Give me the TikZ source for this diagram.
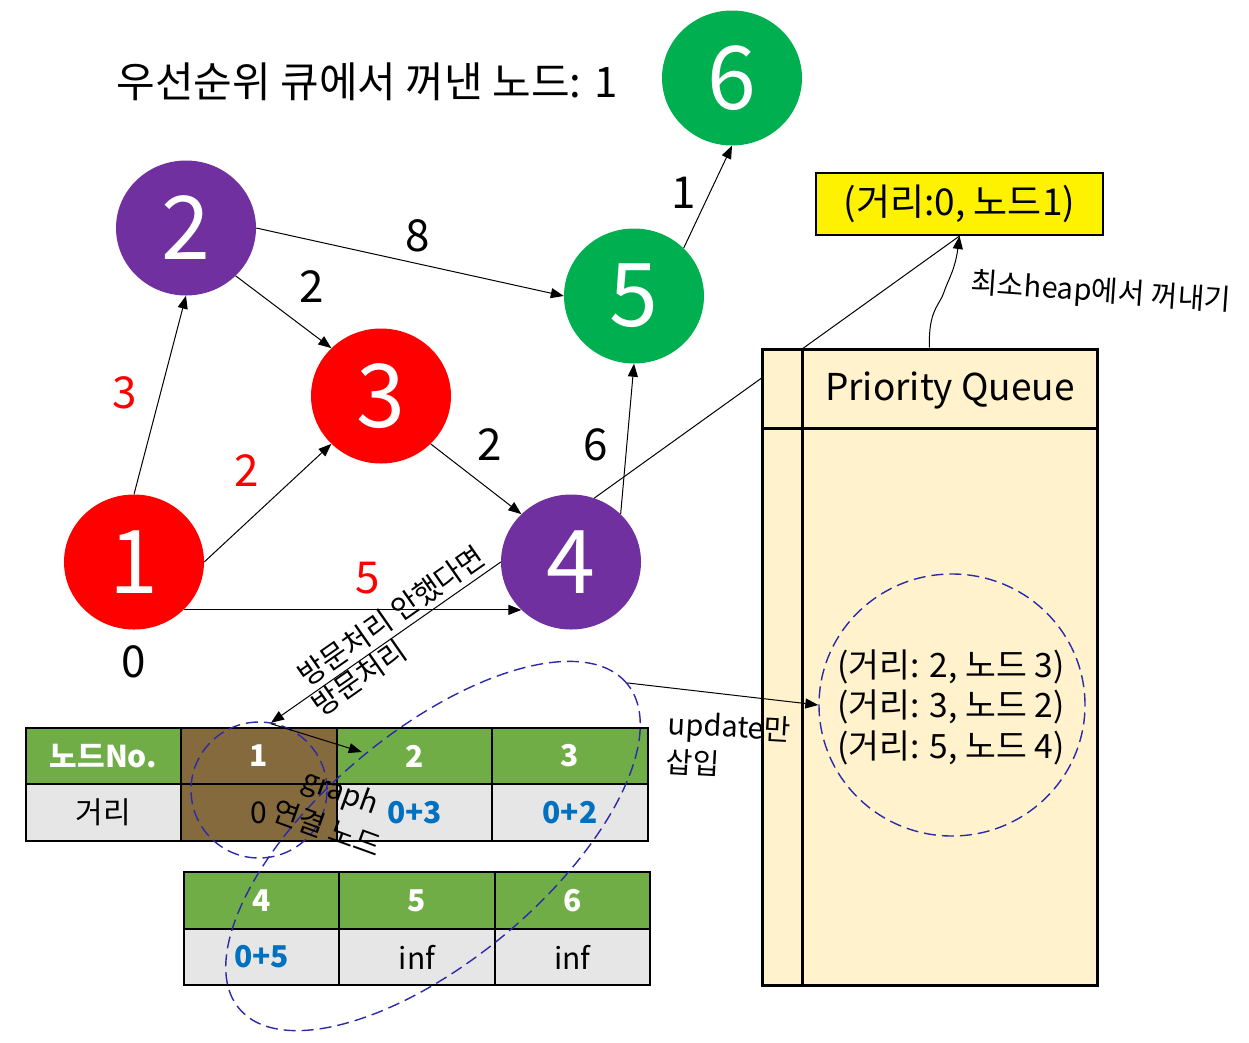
\documentclass[tikz,border=0pt]{standalone}
\usepackage{fontspec}
\setmainfont{Noto Sans CJK KR}
\usetikzlibrary{arrows.meta,positioning,calc,shapes.geometric}

\definecolor{vred}{HTML}{FF0000}
\definecolor{vpurple}{HTML}{7030A0}
\definecolor{vgreen}{HTML}{00B050}
\definecolor{tgreen}{HTML}{70AD47}
\definecolor{tgray}{HTML}{E7E6E6}
\definecolor{tbrown}{HTML}{846A3C}
\definecolor{pqfill}{HTML}{FFF2CC}
\definecolor{dashblue}{HTML}{2A2AAA}
\definecolor{numblue}{HTML}{0070C0}

\begin{document}
\begin{tikzpicture}[
    x=1pt, y=-1pt,
    >={Triangle[length=13pt,width=10pt]},
    vtx/.style={ellipse, minimum width=140pt, minimum height=135pt, inner sep=0pt, text=white, font=\fontsize{88}{88}\selectfont},
    wlbl/.style={font=\fontsize{44}{44}\selectfont, inner sep=0pt},
    conn/.style={->, line width=1pt},
    hcell/.style={draw, line width=2.2pt, fill=tgreen, text=white, minimum width=155.5pt, minimum height=56.5pt, inner sep=0pt, outer sep=0pt, font=\fontsize{30}{30}\selectfont\bfseries},
    dcell/.style={draw, line width=2.2pt, fill=tgray, minimum width=155.5pt, minimum height=56.5pt, inner sep=0pt, outer sep=0pt, font=\fontsize{30}{30}\selectfont},
    upd/.style={text=numblue, font=\fontsize{30}{30}\selectfont\bfseries},
    hint/.style={font=\fontsize{29}{38}\selectfont, inner sep=1pt},
    dashring/.style={draw=dashblue, line width=1.4pt, dash pattern=on 12pt off 6pt}
  ]
  \useasboundingbox (0,0) rectangle (1249,1042);

  % 제목
  \node[font=\fontsize{42}{42}\selectfont] (title) at (367,82) {우선순위 큐에서 꺼낸 노드: 1};

  % 그래프
  \node[vtx, fill=vred] (n1) at (134,562) {1};
  \node[vtx, fill=vpurple] (n2) at (186,228) {2};
  \node[vtx, fill=vred] (n3) at (381,396) {3};
  \node[vtx, fill=vpurple] (n4) at (571,562) {4};
  \node[vtx, fill=vgreen] (n5) at (634,296) {5};
  \node[vtx, fill=vgreen] (n6) at (732,78) {6};

  \draw[conn] (n1.north) -- (n2.south);
  \draw[conn] (n1.east) -- (n3.south west);
  \draw[conn] (n1.south east) -- (n4.south west);
  \draw[conn] (n2.south east) -- (n3.north west);
  \draw[conn] (n2.east) -- (n5.west);
  \draw[conn] (n3.south east) -- (n4.north west);
  \draw[conn] (n4.north east) -- (n5.south);
  \draw[conn] (n5.north east) -- (n6.south);

  % 가중치
  \node[wlbl, text=vred] (w12) at (125,393) {3};
  \node[wlbl, text=vred] (w13) at (247,471) {2};
  \node[wlbl, text=vred] (w14) at (368,578) {5};
  \node[wlbl] (w23) at (312,287) {2};
  \node[wlbl] (w25) at (418,236) {8};
  \node[wlbl] (w34) at (490,445) {2};
  \node[wlbl] (w45) at (596,445) {6};
  \node[wlbl] (w56) at (684,193) {1};
  \node[wlbl] (dist1) at (134,662) {0};

  % 꺼낸 원소
  \node[draw, line width=2pt, fill=yellow, minimum width=287pt, minimum height=62pt, font=\fontsize{37}{37}\selectfont] (ybox) at (959.5,204) {(거리:0, 노드1)};
  \draw[line width=1pt] (n4.70) -- (ybox.south);

  % 우선순위 큐
  \node[draw, line width=3pt, fill=pqfill, minimum width=335pt, minimum height=636pt, inner sep=0pt] (pq) at (929.5,667) {};
  \draw[line width=2.5pt] ($(pq.north west)+(42,0)$) -- ($(pq.south west)+(42,0)$);
  \draw[line width=2.5pt] ($(pq.north west)+(0,81)$) -- ($(pq.north east)+(0,81)$);
  \node[font=\fontsize{37}{37}\selectfont] (pqtitle) at (950,390) {Priority Queue};
  \node[dashring, ellipse, minimum width=266pt, minimum height=262pt, inner sep=0pt] (pqc) at (952,705) {};
  \node[font=\fontsize{33.5}{40.5}\selectfont, align=center] (pqtxt) at (951,707) {(거리: 2, 노드 3)\\(거리: 3, 노드 2)\\(거리: 5, 노드 4)};

  \draw[conn] (pq.north) .. controls (928,310) and (940,305) .. (944,292) .. controls (948,280) and (955,270) .. (ybox.south);
  \node[hint, rotate=-4] (poptxt) at (1101,293) {최소heap에서 꺼내기};

  % 거리 테이블
  \node[hcell, fill=tbrown] (h1) at (259,756) {1};
  \node[hcell, left=0pt of h1] (h0) {노드No.};
  \node[hcell, right=0pt of h1] (h2) {2};
  \node[hcell, right=0pt of h2] (h3) {3};
  \node[dcell, below=0pt of h0] (d0) {거리};
  \node[dcell, fill=tbrown, below=0pt of h1] (d1) {0};
  \node[dcell, upd, below=0pt of h2] (d2) {0+3};
  \node[dcell, upd, below=0pt of h3] (d3) {0+2};

  \node[hcell] (h4) at (261.5,900.5) {4};
  \node[hcell, right=0pt of h4] (h5) {5};
  \node[hcell, right=0pt of h5] (h6) {6};
  \node[dcell, upd, below=0pt of h4] (d4) {0+5};
  \node[dcell, below=0pt of h5] (d5) {inf};
  \node[dcell, below=0pt of h6] (d6) {inf};

  \node[dashring, ellipse, minimum width=136pt, minimum height=136pt] (curc) at (259,790) {};
  \node[dashring, ellipse, minimum width=506pt, minimum height=228pt, rotate=40] (adjc) at (433,846) {};

  % 방문 처리, 인접 노드 갱신
  \draw[conn] (n4.west) -- node[hint, sloped, above=4pt, pos=0.43] (visq) {방문처리 안했다면} node[hint, sloped, below, inner sep=0pt, pos=0.65] (vis) {방문처리} ($(h1.north)+(12,-5)$);
  \draw[conn] ($(h1.north)+(12,-4)$) -- ($(h2.west)+(25,-4)$);
  \node[hint, rotate=-20, align=center, font=\fontsize{29}{40}\selectfont] (adjtxt) at (334,810) {graph\\연결 노드};

  \draw[conn] (adjc.east) -- (pqc.west);
  \node[hint, align=left, anchor=west, rotate=-3] (updtxt) at (666,742) {update만\\삽입};
\end{tikzpicture}
\end{document}
